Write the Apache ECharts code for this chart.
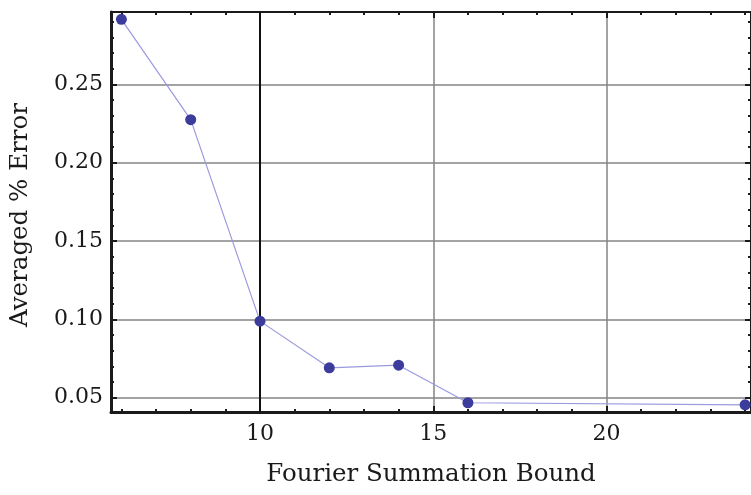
<!DOCTYPE html>
<html>
<head>
<meta charset="utf-8">
<script src="https://cdn.jsdelivr.net/npm/echarts@6/dist/echarts.min.js"></script>
<style>
  html, body { margin: 0; padding: 0; background: #fff; }
  #chart { width: 751px; height: 495px; }
</style>
</head>
<body>
<div id="chart"></div>
<script>
// Averaged error against the Fourier summation bound
const bounds = [6, 8, 10, 12, 14, 16, 24];
const avgError = [0.2915, 0.2275, 0.0989, 0.0691, 0.0708, 0.0468, 0.0455];

// Axis ranges and tick positions
const X_MIN = 5.7, X_MAX = 24.17;
const Y_MIN = 0.0409, Y_MAX = 0.2962;
const xMajor = [10, 15, 20];
const xMinor = [6, 7, 8, 9, 11, 12, 13, 14, 16, 17, 18, 19, 21, 22, 23, 24];
const yMajor = [0.05, 0.10, 0.15, 0.20, 0.25];
const yMinor = [0.06, 0.07, 0.08, 0.09, 0.11, 0.12, 0.13, 0.14, 0.16, 0.17, 0.18, 0.19,
                0.21, 0.22, 0.23, 0.24, 0.26, 0.27, 0.28, 0.29];

const xTitle = 'Fourier Summation Bound';
const yTitle = 'Averaged % Error';

const FONT = 'DejaVu Serif';
const INK = '#1a1a1a';
const GRID_GRAY = '#858585';

const gridBox = { left: 111, right: -1, top: 12, bottom: 83, containLabel: false };

function frameAxis(extra) {
  return Object.assign({
    type: 'value',
    axisLine: { show: true, onZero: false, lineStyle: { color: INK, width: 2 } },
    axisTick: { show: true, inside: true, length: 6, lineStyle: { color: INK, width: 2 } },
    axisLabel: { show: false },
    splitLine: { show: false }
  }, extra);
}

const option = {
  backgroundColor: '#ffffff',
  animation: false,
  grid: [Object.assign({}, gridBox), Object.assign({}, gridBox)],
  xAxis: [
    frameAxis({
      gridIndex: 0, position: 'bottom', min: X_MIN, max: X_MAX,
      axisLine: { show: true, onZero: false, lineStyle: { color: INK, width: 3 } },
      axisTick: { show: true, inside: true, length: 6, customValues: xMajor, lineStyle: { color: INK, width: 2 } },
      axisLabel: { show: true, customValues: xMajor, margin: 11, color: INK, fontFamily: FONT, fontSize: 22 },
      splitLine: { show: true, lineStyle: { color: GRID_GRAY, width: 1.5 } },
      name: xTitle, nameLocation: 'middle', nameGap: 50,
      nameTextStyle: { color: INK, fontFamily: FONT, fontSize: 24.5 }
    }),
    frameAxis({
      gridIndex: 0, position: 'top', min: X_MIN, max: X_MAX,
      axisTick: { show: true, inside: true, length: 6, customValues: xMajor, lineStyle: { color: INK, width: 2 } }
    }),
    frameAxis({
      gridIndex: 1, position: 'bottom', min: X_MIN, max: X_MAX,
      axisLine: { show: false },
      axisTick: { show: true, inside: true, length: 3, customValues: xMinor, lineStyle: { color: INK, width: 2 } }
    }),
    frameAxis({
      gridIndex: 1, position: 'top', min: X_MIN, max: X_MAX,
      axisLine: { show: false },
      axisTick: { show: true, inside: true, length: 3, customValues: xMinor, lineStyle: { color: INK, width: 2 } }
    })
  ],
  yAxis: [
    frameAxis({
      gridIndex: 0, position: 'left', min: Y_MIN, max: Y_MAX,
      axisLine: { show: true, onZero: false, lineStyle: { color: INK, width: 3 } },
      axisTick: { show: true, inside: true, length: 6, customValues: yMajor, lineStyle: { color: INK, width: 2 } },
      axisLabel: {
        show: true, customValues: yMajor, margin: 8, color: INK, fontFamily: FONT, fontSize: 22,
        formatter: v => v.toFixed(2)
      },
      splitLine: { show: true, lineStyle: { color: GRID_GRAY, width: 1.5 } },
      name: yTitle, nameLocation: 'middle', nameGap: 78, nameRotate: 90,
      nameTextStyle: { color: INK, fontFamily: FONT, fontSize: 24.5, padding: [0, 6, 0, 0] }
    }),
    frameAxis({
      gridIndex: 0, position: 'right', min: Y_MIN, max: Y_MAX,
      axisTick: { show: true, inside: true, length: 6, customValues: yMajor, lineStyle: { color: INK, width: 2 } }
    }),
    frameAxis({
      gridIndex: 1, position: 'left', min: Y_MIN, max: Y_MAX,
      axisLine: { show: false },
      axisTick: { show: true, inside: true, length: 3, customValues: yMinor, lineStyle: { color: INK, width: 2 } }
    }),
    frameAxis({
      gridIndex: 1, position: 'right', min: Y_MIN, max: Y_MAX,
      axisLine: { show: false },
      axisTick: { show: true, inside: true, length: 3, customValues: yMinor, lineStyle: { color: INK, width: 2 } }
    })
  ],
  series: [
    {
      type: 'line',
      xAxisIndex: 0,
      yAxisIndex: 0,
      data: bounds.map((b, i) => [b, avgError[i]]),
      symbol: 'circle',
      symbolSize: 11,
      lineStyle: { color: '#9a9ade', width: 1.2 },
      itemStyle: { color: '#3c3c9c' },
      clip: false,
      markLine: {
        silent: true,
        symbol: 'none',
        label: { show: false },
        lineStyle: { color: '#111111', width: 2, type: 'solid' },
        data: [{ xAxis: 10 }],
        z: 1
      }
    }
  ]
};

const chart = echarts.init(document.getElementById('chart'), null, { renderer: 'canvas' });
chart.setOption(option);
</script>
</body>
</html>
